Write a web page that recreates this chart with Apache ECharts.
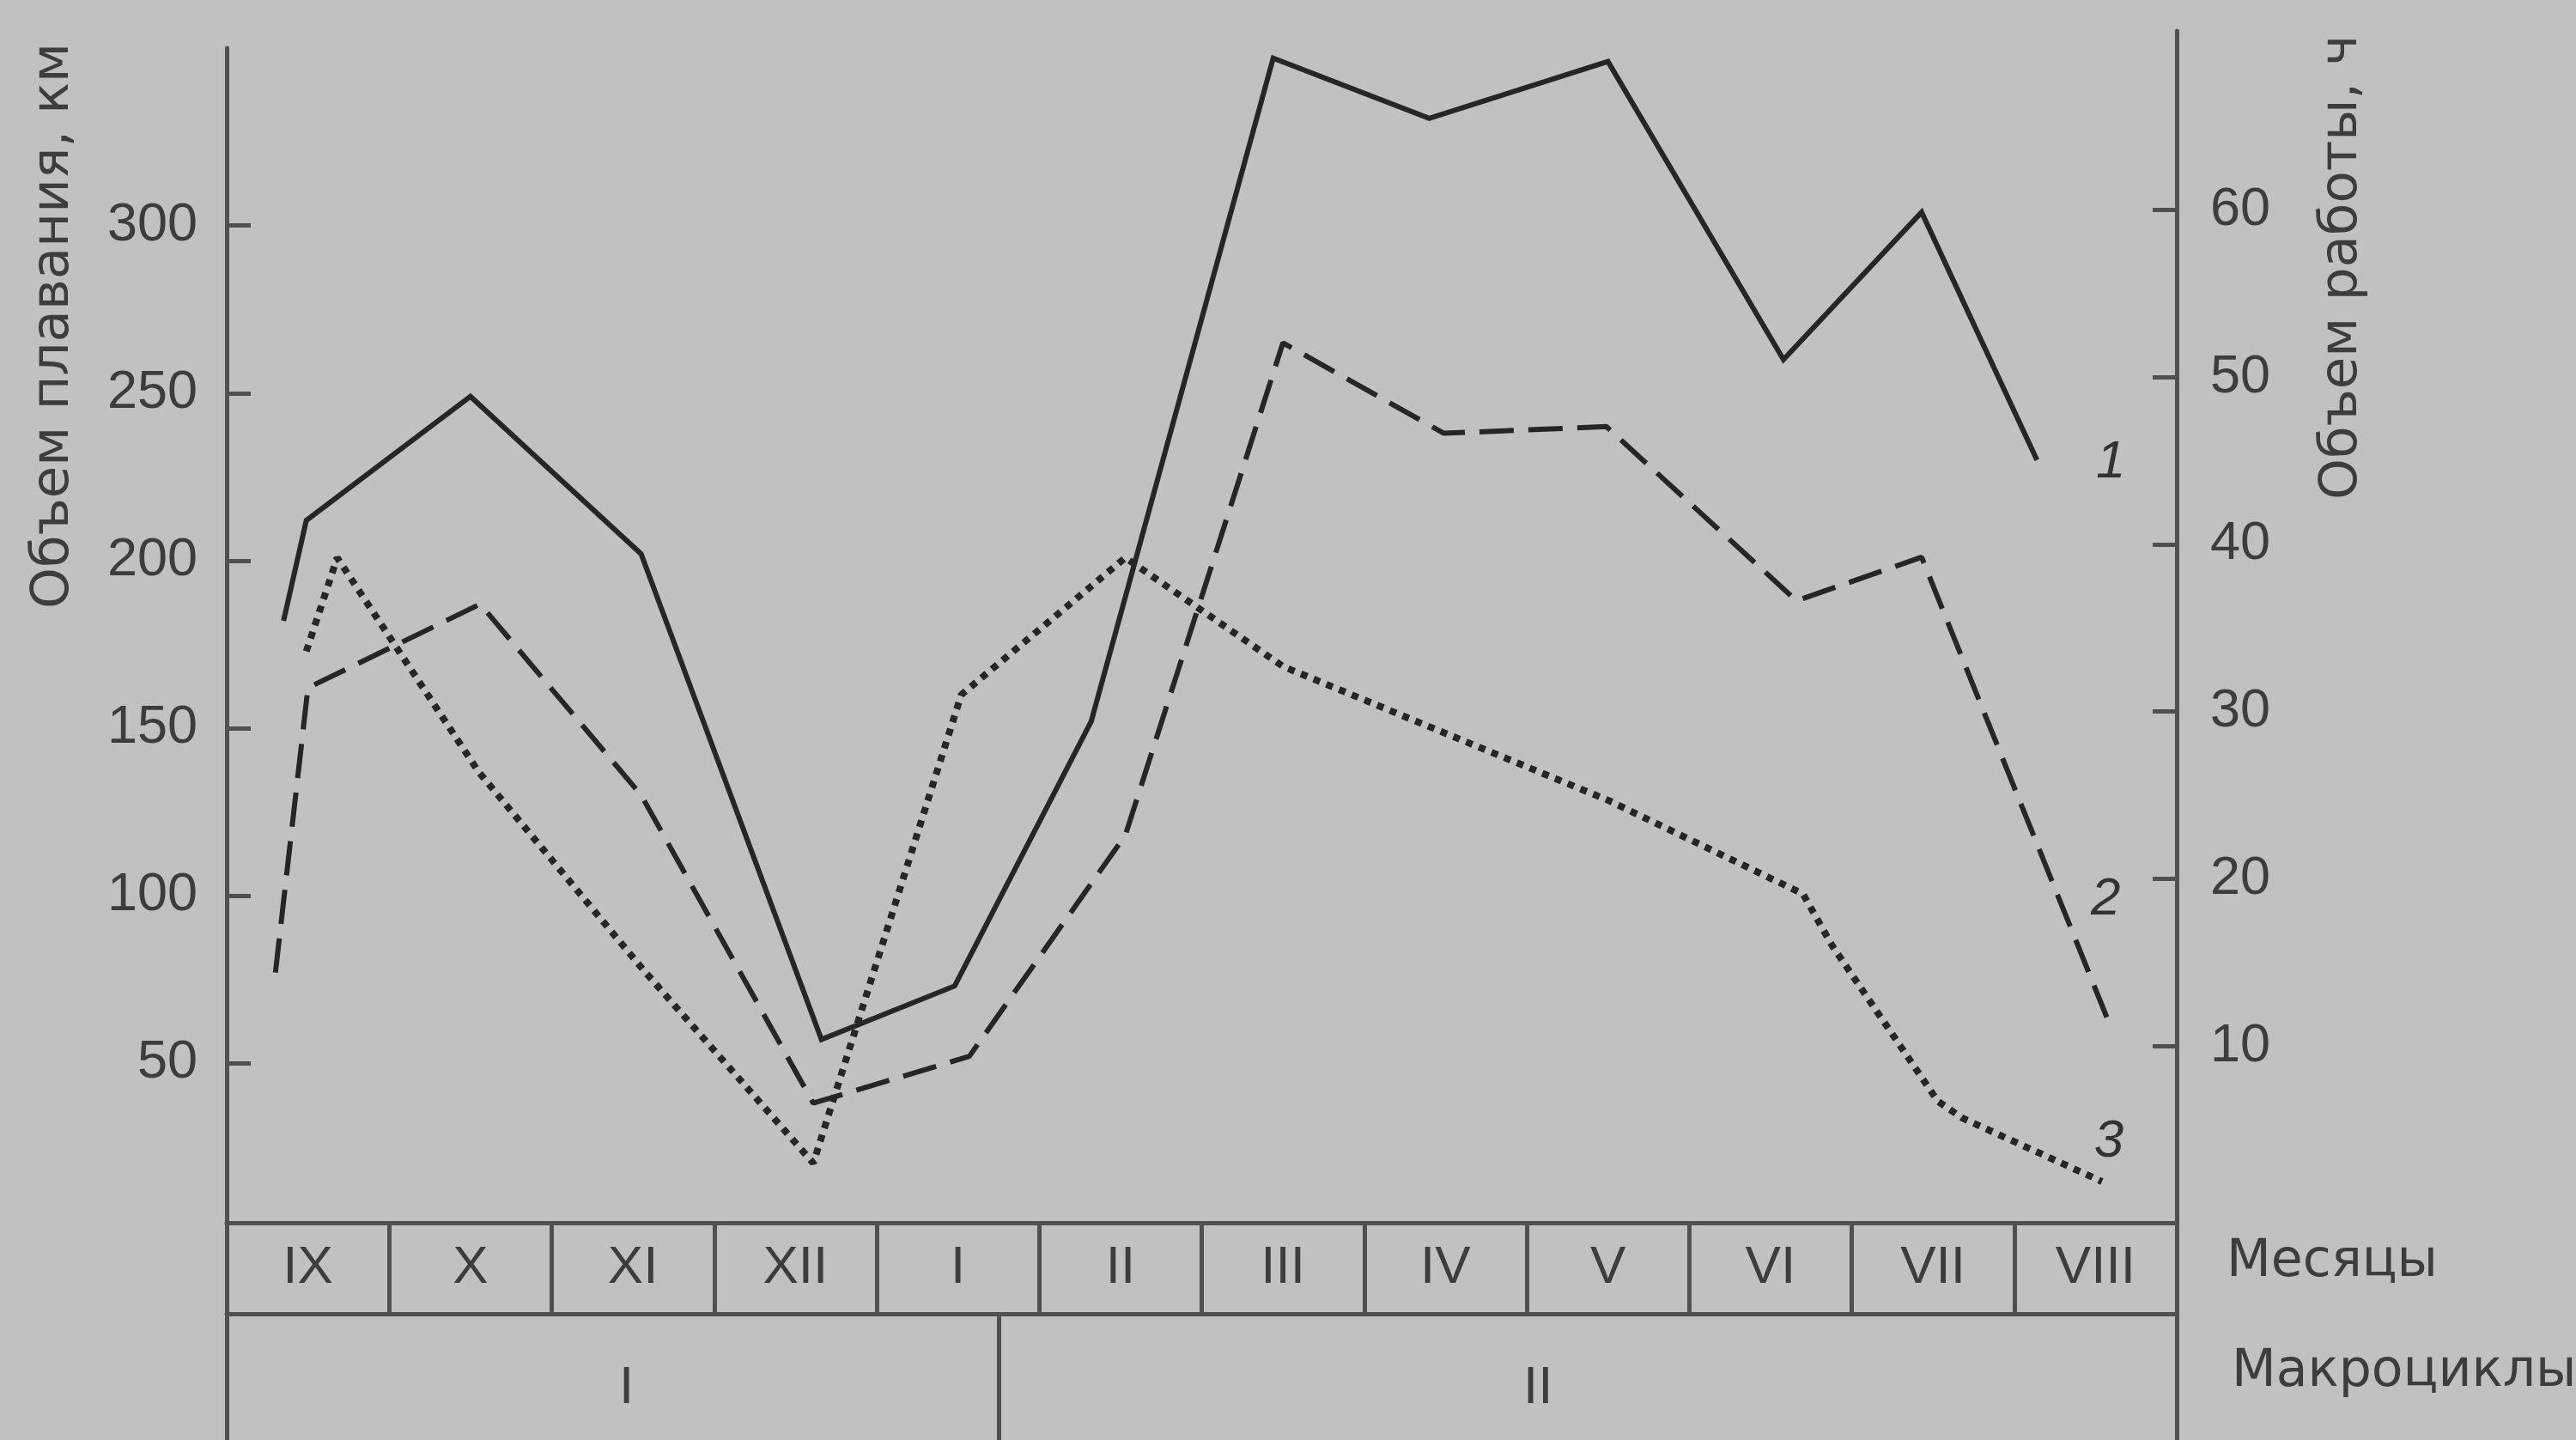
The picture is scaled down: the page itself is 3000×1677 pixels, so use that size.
<!DOCTYPE html>
<html>
<head>
<meta charset="utf-8">
<title>Объем плавания и работы по месяцам</title>
<style>
  html, body { margin: 0; padding: 0; background: #c1c1c1; }
  #chart { width: 3000px; height: 1677px; }
</style>
<script src="https://cdn.jsdelivr.net/npm/echarts@6/dist/echarts.min.js"></script>
</head>
<body>
<div id="chart"></div>
<script>
// months of the season, macrocycles below them
var months = ['IX', 'X', 'XI', 'XII', 'I', 'II', 'III', 'IV', 'V', 'VI', 'VII', 'VIII'];
var macroNames = ['I', 'II'];
var macroCenters = [2.46, 8.07];   // label places, in months from start of IX
var macroBorder = [4.75];          // macrocycle I ends inside January
var kmTicks = [50, 100, 150, 200, 250, 300];
var hourTicks = [10, 20, 30, 40, 50, 60];

// x = months from start of IX, y = value
// 1 - solid, km
var line1 = [[0.35, 182], [0.49, 212], [1.50, 249], [2.55, 202], [3.66, 57], [4.48, 73],
  [5.32, 152], [6.44, 350], [7.40, 332], [8.50, 349], [9.58, 260], [10.43, 304], [11.14, 230]];
// 2 - dashed, km
var line2 = [[0.30, 77], [0.50, 162], [1.56, 187], [2.55, 130], [3.61, 38], [4.57, 52],
  [5.53, 118], [6.50, 265], [7.49, 238], [8.49, 240], [9.66, 188], [10.43, 201], [11.60, 60]];
// 3 - dotted, hours
var line3 = [[0.49, 33.6], [0.68, 39.2], [1.55, 26.4], [2.56, 14.6], [3.61, 3.0], [4.52, 31.0],
  [5.53, 39.2], [6.50, 32.7], [7.50, 28.7], [8.50, 24.7], [9.70, 19.1], [9.88, 16.0],
  [10.53, 6.7], [10.68, 5.7], [11.54, 1.9]];

var ink = '#262626';
var frame = '#505050';
var txt = '#3d3d3d';
var font = '"Liberation Sans", Arial, sans-serif';
var cyr = '"DejaVu Sans", "Liberation Sans", sans-serif';

var chart = echarts.init(document.getElementById('chart'));

function frameLine() {
  return { show: true, onZero: false, lineStyle: { color: frame, width: 5 } };
}

var option = {
  backgroundColor: '#c1c1c1',
  animation: false,
  grid: [
    { left: 264, right: 465, top: 56, bottom: 253 },
    { left: 264, right: 465, top: 36, bottom: 253 },
    { left: 264, right: 465, top: 1424, bottom: 0 }
  ],
  xAxis: [
    { type: 'value', gridIndex: 0, min: 0, max: 12, show: false, axisLine: { onZero: false } },
    { type: 'value', gridIndex: 1, min: 0, max: 12, show: false, axisLine: { onZero: false } },
    {
      type: 'category', gridIndex: 2, position: 'top', data: months, boundaryGap: true,
      axisLine: frameLine(),
      axisTick: { show: true, inside: true, length: 106, interval: 0,
        lineStyle: { color: frame, width: 5 } },
      axisLabel: { inside: true, margin: 53, interval: 0, verticalAlign: 'middle',
        fontSize: 62, color: txt, fontFamily: font }
    },
    {
      type: 'value', gridIndex: 2, position: 'top', offset: -106, min: 0, max: 12,
      splitLine: { show: false },
      axisLine: frameLine(),
      axisTick: { show: true, inside: true, length: 260, customValues: macroBorder,
        lineStyle: { color: frame, width: 5 } },
      axisLabel: {
        inside: true, margin: 87, verticalAlign: 'middle', customValues: macroCenters,
        fontSize: 62, color: txt, fontFamily: font,
        formatter: function (v) {
          var i = 0;
          macroCenters.forEach(function (c, k) {
            if (Math.abs(c - v) < Math.abs(macroCenters[i] - v)) i = k;
          });
          return macroNames[i];
        }
      }
    }
  ],
  yAxis: [
    {
      type: 'value', gridIndex: 0, position: 'left', min: 2.3, max: 353,
      splitLine: { show: false },
      axisLine: frameLine(),
      axisTick: { show: true, inside: true, length: 28, customValues: kmTicks,
        lineStyle: { color: frame, width: 5 } },
      axisLabel: { margin: 34, customValues: kmTicks, fontSize: 63, color: txt, fontFamily: font }
    },
    {
      type: 'value', gridIndex: 1, position: 'right', min: -0.565, max: 70.7,
      splitLine: { show: false },
      axisLine: frameLine(),
      axisTick: { show: true, inside: true, length: 28, customValues: hourTicks,
        lineStyle: { color: frame, width: 5 } },
      axisLabel: { margin: 39, customValues: hourTicks, fontSize: 63, color: txt, fontFamily: font }
    },
    {
      type: 'value', gridIndex: 2, position: 'left',
      splitLine: { show: false }, axisTick: { show: false }, axisLabel: { show: false },
      axisLine: frameLine()
    },
    {
      type: 'value', gridIndex: 2, position: 'right',
      splitLine: { show: false }, axisTick: { show: false }, axisLabel: { show: false },
      axisLine: frameLine()
    }
  ],
  series: [
    {
      name: '1', type: 'line', xAxisIndex: 0, yAxisIndex: 0, data: line1,
      symbol: 'none', lineStyle: { color: ink, width: 6, type: 'solid', join: 'miter' }
    },
    {
      name: '2', type: 'line', xAxisIndex: 0, yAxisIndex: 0, data: line2,
      symbol: 'none', lineStyle: { color: ink, width: 6, type: [40, 17] }
    },
    {
      name: '3', type: 'line', xAxisIndex: 1, yAxisIndex: 1, data: line3,
      symbol: 'none', lineStyle: { color: ink, width: 8, type: [8, 8] }
    }
  ],
  graphic: [
    { type: 'text', x: 63, y: 709, rotation: Math.PI / 2,
      style: { text: 'Объем плавания, км', fill: txt, fontSize: 61, fontFamily: cyr,
        textAlign: 'left', textVerticalAlign: 'middle' } },
    { type: 'text', x: 2728, y: 582, rotation: Math.PI / 2,
      style: { text: 'Объем работы, ч', fill: txt, fontSize: 61, fontFamily: cyr,
        textAlign: 'left', textVerticalAlign: 'middle' } },
    { type: 'text', x: 2593, y: 1470,
      style: { text: 'Месяцы', fill: txt, fontSize: 60, fontFamily: cyr,
        textAlign: 'left', textVerticalAlign: 'middle' } },
    { type: 'text', x: 2599, y: 1598,
      style: { text: 'Макроциклы', fill: txt, fontSize: 60, fontFamily: cyr,
        textAlign: 'left', textVerticalAlign: 'middle' } }
  ]
};
chart.setOption(option);

// curve numbers next to the last point of each line
var lines = [line1, line2, line3];
var nudge = [[86, 3], [-7, -151], [8, -46]];
var marks = lines.map(function (d, i) {
  var p = chart.convertToPixel({ seriesIndex: i }, d[d.length - 1]);
  return {
    type: 'text', x: p[0] + nudge[i][0], y: p[1] + nudge[i][1],
    style: { text: String(i + 1), fill: '#333333', fontSize: 62, fontStyle: 'italic',
      fontFamily: font, textAlign: 'center', textVerticalAlign: 'middle' }
  };
});
chart.setOption({ graphic: option.graphic.concat(marks) });

window.onresize = function () { chart.resize(); };
</script>
</body>
</html>
